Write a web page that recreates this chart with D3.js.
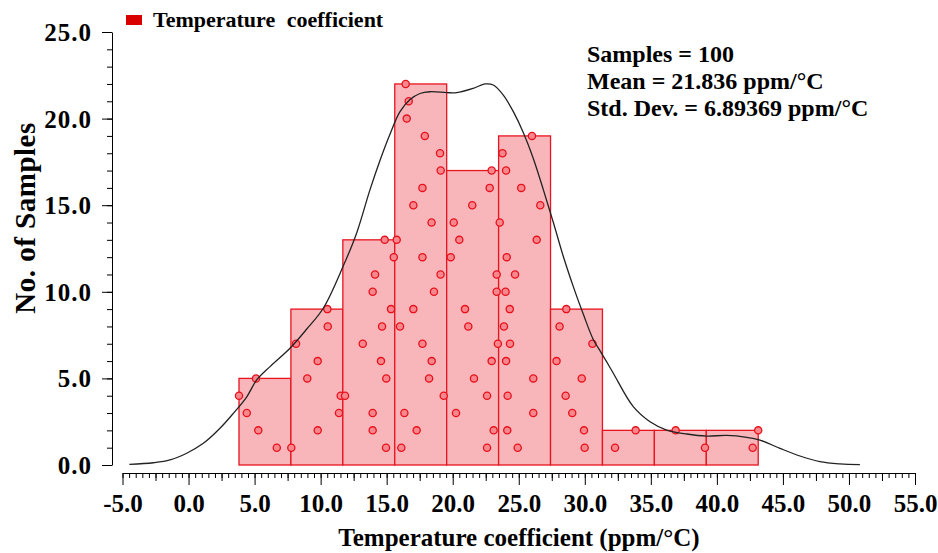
<!DOCTYPE html>
<html>
<head>
<meta charset="utf-8">
<script src="https://cdn.jsdelivr.net/npm/d3@7"></script>
<style>
  body { margin: 0; background: #fff; }
  text { font-family: "Liberation Serif", "Times New Roman", serif; font-weight: bold; fill: #000; }
</style>
</head>
<body>
<svg id="chart" width="938" height="553"></svg>
<script>
// sample values, grouped by bin, in the order they stack inside each bin
var samples = [
  6.68, 5.28, 4.41, 3.82, 5.11,
  7.78, 9.78, 11.39, 11.52, 8.99, 9.78, 8.14, 10.54, 10.51,
  14.95, 13.94, 13.94, 11.85, 14.97, 14.57, 13.19, 14.65, 15.33, 13.94, 14.12, 15.54, 14.85,
  16.11, 17.27, 16.34, 19.32, 18.21, 18.41, 17.71, 16.01, 17.02, 18.58, 19.08, 17.71, 15.76,
  18.40, 17.02, 17.71, 19.09, 19.04, 17.89, 16.52, 16.67, 16.44,
  22.60, 23.10, 20.25, 22.60, 21.61, 22.95, 23.42, 21.18, 20.93, 23.33, 23.33, 19.85, 20.50,
  20.08, 21.48, 22.80, 22.95,
  24.92, 24.13, 26.10, 24.16, 26.10, 24.04, 24.34, 23.88, 24.32, 24.00, 24.72, 24.09, 26.36,
  23.56, 26.63, 25.19, 24.04, 23.77, 26.00,
  29.99, 29.94, 29.05, 28.55, 29.77, 27.86, 30.58, 28.09, 28.60,
  32.29, 33.85,
  39.10, 36.88,
  42.71, 43.13
];
var binCount = 10;

// fitted distribution curve
var curveX = [-4.48, -2.66, -1.40, -0.14, 1.12, 2.38, 3.39, 4.41, 5.16, 6.17, 7.68, 8.95, 10.20, 11.72,
  12.73, 13.74, 14.50, 15.25, 16.01, 16.77, 17.52, 18.28, 19.55, 20.30, 21.56, 22.45, 23.07, 23.83,
  24.59, 25.34, 26.10, 26.86, 27.62, 28.37, 29.13, 29.89, 30.64, 31.15, 31.66, 32.16, 33.67, 34.94,
  36.20, 37.71, 39.23, 40.74, 42.26, 43.26, 44.78, 46.29, 47.80, 49.32, 50.83];
var curveY = [0.04, 0.13, 0.29, 0.68, 1.25, 2.12, 2.98, 3.94, 4.91, 5.68, 6.74, 7.85, 9.05, 11.5,
  13.4, 15.9, 17.6, 19.1, 20.4, 21.1, 21.45, 21.55, 21.50, 21.50, 21.75, 22.00, 21.94, 21.36,
  20.4, 19.2, 17.7, 15.9, 14.0, 12.05, 10.3, 8.7, 7.25, 6.6, 5.95, 5.3, 3.37, 2.50,
  2.02, 1.79, 1.67, 1.71, 1.60, 1.44, 0.96, 0.52, 0.19, 0.06, 0.02];

var xMajor = d3.range(-5, 55.01, 5);
var xMid = d3.range(-2.5, 55, 5);
var xMinor = d3.range(-5, 55.01, 0.5);
var yMajor = [0, 5, 10, 15, 20, 25];
var yMinor = d3.range(0, 25.01, 1);

var legendLabel = "Temperature coefficient";
var statLines = ["Samples = 100", "Mean = 21.836 ppm/\u00b0C", "Std. Dev. = 6.89369 ppm/\u00b0C"];
var xTitle = "Temperature coefficient (ppm/\u00b0C)";
var yTitle = "No. of Samples";

var svg = d3.select("#chart");

var x = d3.scaleLinear().domain([-5, 55]).range([122.5, 915]);
var y = d3.scaleLinear().domain([0, 25]).range([465, 32]);

var fmt = function(d) { return d3.format(".1f")(d).replace("\u2212", "-"); };

var lo = d3.min(samples), hi = d3.max(samples);
var step = (hi - lo) / binCount;
var bins = d3.bin()
  .domain([lo, hi])
  .thresholds(d3.range(1, binCount).map(function(i) { return lo + i * step; }))(samples);

// bars
svg.append("g").selectAll("rect").data(bins).enter()
  .append("rect")
  .attr("x", function(d) { return x(d.x0); })
  .attr("y", function(d) { return y(d.length); })
  .attr("width", function(d) { return x(d.x1) - x(d.x0); })
  .attr("height", function(d) { return y(0) - y(d.length); })
  .attr("fill", "#f9b6ba")
  .attr("stroke", "#e8141f")
  .attr("stroke-width", 1.3);

// points, stacked by rank inside their bin
var pts = [];
bins.forEach(function(b) {
  b.forEach(function(v, i) { pts.push({v: v, k: i + 1}); });
});
svg.append("g").selectAll("circle").data(pts).enter()
  .append("circle")
  .attr("cx", function(d) { return x(d.v); })
  .attr("cy", function(d) { return y(d.k); })
  .attr("r", 3.6)
  .attr("fill", "#f5878d")
  .attr("stroke", "#e8101c")
  .attr("stroke-width", 1.3);

// curve
var line = d3.line()
  .x(function(d, i) { return x(curveX[i]); })
  .y(function(d) { return y(d); })
  .curve(d3.curveCatmullRom);
svg.append("path")
  .datum(curveY)
  .attr("d", line)
  .attr("fill", "none")
  .attr("stroke", "#222")
  .attr("stroke-width", 1.3);

// y axis
var yMinorAxis = svg.append("g").attr("transform", "translate(112,0)")
  .call(d3.axisLeft(y).tickValues(yMinor).tickSize(5).tickFormat(""));
yMinorAxis.select(".domain").remove();
var yAxis = svg.append("g").attr("transform", "translate(112,0)")
  .call(d3.axisLeft(y).tickValues(yMajor).tickSize(10).tickSizeOuter(0).tickPadding(10)
    .tickFormat(fmt));
yAxis.selectAll("text").style("font-size", "25px").style("letter-spacing", "1px").attr("dy", "0.34em");

// x axis
var xBase = 473;
var xMinorAxis = svg.append("g").attr("transform", "translate(0," + xBase + ")")
  .call(d3.axisBottom(x).tickValues(xMinor).tickSize(5).tickFormat(""));
xMinorAxis.select(".domain").remove();
var xMidAxis = svg.append("g").attr("transform", "translate(0," + xBase + ")")
  .call(d3.axisBottom(x).tickValues(xMid).tickSize(8).tickFormat(""));
xMidAxis.select(".domain").remove();
var xAxis = svg.append("g").attr("transform", "translate(0," + xBase + ")")
  .call(d3.axisBottom(x).tickValues(xMajor).tickSize(12).tickSizeOuter(0).tickPadding(9)
    .tickFormat(fmt));
xAxis.selectAll("text").style("font-size", "25px");

svg.selectAll(".domain, .tick line").attr("stroke", "#000").attr("stroke-width", 1);

// titles
svg.append("text")
  .attr("x", 519).attr("y", 546)
  .attr("text-anchor", "middle")
  .style("font-size", "25px")
  .text(xTitle);
svg.append("text")
  .attr("transform", "translate(35,218) rotate(-90)")
  .attr("text-anchor", "middle")
  .style("font-size", "29px")
  .style("letter-spacing", "0.5px")
  .text(yTitle);

// legend
svg.append("rect")
  .attr("x", 126).attr("y", 15).attr("width", 16).attr("height", 10)
  .attr("fill", "#d90000");
svg.append("text")
  .attr("x", 153).attr("y", 27)
  .style("font-size", "22px")
  .style("word-spacing", "6px")
  .text(legendLabel);

// stats box
svg.append("g").selectAll("text").data(statLines).enter()
  .append("text")
  .attr("x", 587)
  .attr("y", function(d, i) { return 62 + i * 27; })
  .style("font-size", "24px")
  .text(function(d) { return d; });
</script>
</body>
</html>
